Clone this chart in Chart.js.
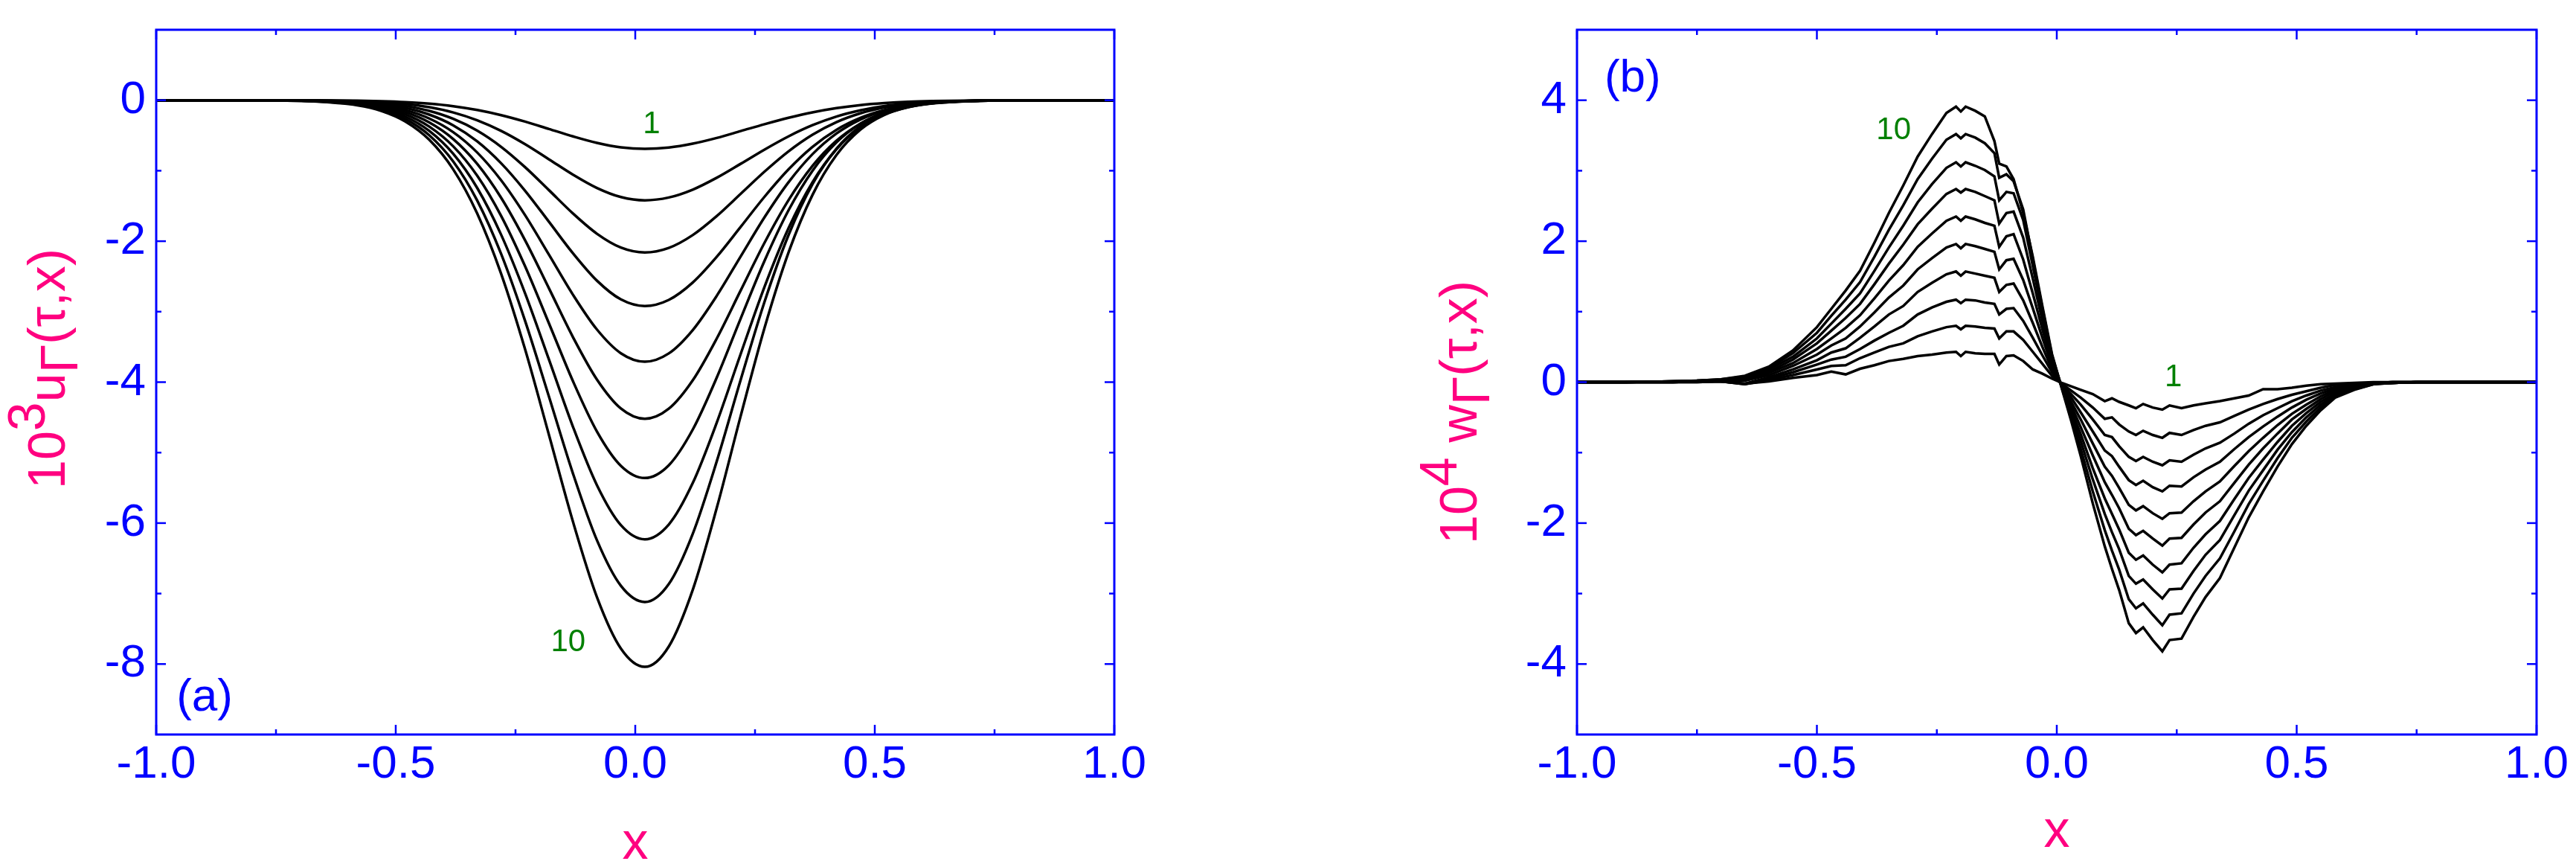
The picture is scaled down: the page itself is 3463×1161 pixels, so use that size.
<!DOCTYPE html>
<html><head><meta charset="utf-8">
<script src="https://cdn.jsdelivr.net/npm/chart.js@4.4.1/dist/chart.umd.min.js"></script>
<style>
html,body{margin:0;padding:0;background:#fff;width:3463px;height:1161px;overflow:hidden;}
canvas{position:absolute;top:0;}
#ca{left:0;} #cb{left:1731px;}
</style></head><body>
<canvas id="ca" width="1731" height="1161"></canvas>
<canvas id="cb" width="1732" height="1161"></canvas>
<script>
// ---------- panel (a): 10^3 u_Γ(τ,x), curves 1..10 ----------
const X_U = [-1, -0.78, -0.68, -0.58, -0.53, -0.48, -0.43, -0.38, -0.33, -0.28, -0.23, -0.18, -0.13, -0.08, -0.03, 0.02, 0.07, 0.12, 0.17, 0.22, 0.27, 0.32, 0.37, 0.42, 0.47, 0.52, 0.57, 0.62, 0.72, 0.82, 1];
const U_1  = [0, 0, -0.001, -0.006, -0.013, -0.026, -0.048, -0.084, -0.138, -0.211, -0.303, -0.408, -0.513, -0.605, -0.668, -0.69, -0.671, -0.616, -0.535, -0.438, -0.34, -0.249, -0.172, -0.112, -0.069, -0.041, -0.022, -0.012, -0.003, 0, 0];
const U_2  = [0, 0, -0.002, -0.012, -0.027, -0.053, -0.099, -0.173, -0.284, -0.435, -0.624, -0.839, -1.056, -1.245, -1.374, -1.42, -1.38, -1.268, -1.1, -0.902, -0.699, -0.512, -0.354, -0.231, -0.143, -0.083, -0.046, -0.024, -0.005, -0.001, 0];
const U_3  = [0, 0, -0.003, -0.019, -0.04, -0.081, -0.151, -0.264, -0.431, -0.661, -0.95, -1.277, -1.607, -1.894, -2.09, -2.16, -2.095, -1.913, -1.644, -1.329, -1.012, -0.725, -0.489, -0.31, -0.185, -0.104, -0.055, -0.027, -0.006, -0.001, 0];
const U_4  = [0, -0.001, -0.005, -0.026, -0.055, -0.109, -0.204, -0.356, -0.583, -0.894, -1.284, -1.726, -2.172, -2.56, -2.826, -2.92, -2.833, -2.586, -2.222, -1.797, -1.368, -0.98, -0.661, -0.419, -0.25, -0.14, -0.074, -0.037, -0.008, -0.001, 0];
const U_5  = [0, -0.001, -0.006, -0.033, -0.069, -0.139, -0.259, -0.453, -0.741, -1.136, -1.631, -2.193, -2.76, -3.253, -3.59, -3.71, -3.592, -3.261, -2.776, -2.216, -1.658, -1.163, -0.765, -0.472, -0.273, -0.148, -0.075, -0.036, -0.007, -0.001, 0];
const U_6  = [0, -0.001, -0.007, -0.04, -0.085, -0.169, -0.315, -0.551, -0.903, -1.384, -1.987, -2.671, -3.362, -3.963, -4.374, -4.52, -4.377, -3.974, -3.382, -2.7, -2.02, -1.417, -0.932, -0.575, -0.333, -0.18, -0.092, -0.044, -0.008, -0.001, 0];
const U_7  = [0, -0.001, -0.009, -0.047, -0.1, -0.2, -0.374, -0.654, -1.07, -1.641, -2.356, -3.168, -3.987, -4.7, -5.187, -5.36, -5.179, -4.673, -3.937, -3.098, -2.276, -1.561, -1.0, -0.598, -0.334, -0.174, -0.085, -0.039, -0.006, -0.001, 0];
const U_8  = [0, -0.001, -0.01, -0.055, -0.117, -0.233, -0.435, -0.76, -1.244, -1.908, -2.739, -3.682, -4.634, -5.462, -6.029, -6.23, -6.02, -5.432, -4.577, -3.601, -2.645, -1.815, -1.163, -0.695, -0.388, -0.202, -0.099, -0.045, -0.008, -0.001, 0];
const U_9  = [0, -0.002, -0.011, -0.063, -0.133, -0.266, -0.497, -0.869, -1.422, -2.18, -3.13, -4.208, -5.297, -6.243, -6.89, -7.12, -6.864, -6.152, -5.126, -3.969, -2.857, -1.912, -1.189, -0.688, -0.37, -0.184, -0.086, -0.037, -0.006, -0.001, 0];
const U_10 = [0, -0.002, -0.013, -0.071, -0.151, -0.301, -0.561, -0.981, -1.606, -2.462, -3.534, -4.752, -5.981, -7.05, -7.78, -8.04, -7.751, -6.947, -5.788, -4.482, -3.227, -2.159, -1.343, -0.777, -0.417, -0.208, -0.097, -0.042, -0.006, -0.001, 0];

// ---------- panel (b): 10^4 w_Γ(τ,x), curves 1..10 ----------
const X_W = [-1, -0.9, -0.8, -0.75, -0.7, -0.65, -0.6, -0.55, -0.5, -0.47, -0.44, -0.41, -0.38, -0.35, -0.32, -0.29, -0.26, -0.23, -0.21, -0.2, -0.19, -0.17, -0.15, -0.13, -0.12, -0.105, -0.09, -0.07, -0.05, -0.03, -0.01, 0.01, 0.03, 0.05, 0.075, 0.1, 0.115, 0.13, 0.15, 0.165, 0.18, 0.2, 0.22, 0.235, 0.26, 0.285, 0.31, 0.34, 0.37, 0.4, 0.43, 0.46, 0.49, 0.52, 0.55, 0.58, 0.62, 0.66, 0.7, 0.75, 0.8, 0.9, 1];
const W_1  = [0, 0, 0, 0, 0.01, -0.02, 0.01, 0.06, 0.10, 0.15, 0.11, 0.19, 0.24, 0.30, 0.33, 0.37, 0.39, 0.42, 0.43, 0.37, 0.43, 0.41, 0.40, 0.40, 0.25, 0.37, 0.38, 0.30, 0.18, 0.12, 0.05, -0.01, -0.06, -0.11, -0.17, -0.27, -0.23, -0.28, -0.33, -0.37, -0.31, -0.36, -0.39, -0.33, -0.37, -0.33, -0.30, -0.27, -0.23, -0.19, -0.10, -0.10, -0.08, -0.05, -0.03, -0.02, -0.01, 0, 0, 0, 0, 0, 0];
const W_2  = [0, 0, 0, 0, 0.01, -0.03, 0.03, 0.10, 0.18, 0.23, 0.24, 0.34, 0.42, 0.50, 0.55, 0.65, 0.72, 0.78, 0.80, 0.75, 0.80, 0.79, 0.77, 0.76, 0.62, 0.72, 0.72, 0.60, 0.43, 0.26, 0.09, -0.02, -0.12, -0.22, -0.36, -0.52, -0.50, -0.60, -0.70, -0.75, -0.69, -0.75, -0.79, -0.72, -0.75, -0.68, -0.62, -0.57, -0.48, -0.39, -0.31, -0.24, -0.18, -0.13, -0.08, -0.04, -0.02, -0.01, 0, 0, 0, 0, 0];
const W_3  = [0, 0, 0, 0.01, 0.01, -0.03, 0.05, 0.14, 0.25, 0.32, 0.36, 0.47, 0.59, 0.70, 0.80, 0.96, 1.06, 1.14, 1.17, 1.12, 1.17, 1.16, 1.13, 1.11, 0.96, 1.04, 1.05, 0.87, 0.63, 0.38, 0.14, -0.03, -0.17, -0.32, -0.53, -0.75, -0.78, -0.91, -1.06, -1.12, -1.06, -1.13, -1.18, -1.11, -1.13, -1.03, -0.94, -0.86, -0.73, -0.59, -0.47, -0.37, -0.27, -0.19, -0.12, -0.07, -0.03, -0.01, 0, 0, 0, 0, 0];
const W_4  = [0, 0, 0, 0.01, 0.01, -0.02, 0.07, 0.18, 0.31, 0.42, 0.48, 0.63, 0.79, 0.96, 1.08, 1.28, 1.41, 1.53, 1.57, 1.51, 1.57, 1.54, 1.51, 1.48, 1.28, 1.38, 1.40, 1.16, 0.84, 0.50, 0.18, -0.03, -0.22, -0.43, -0.70, -0.97, -1.05, -1.20, -1.39, -1.46, -1.40, -1.49, -1.55, -1.47, -1.48, -1.35, -1.24, -1.13, -0.95, -0.78, -0.63, -0.49, -0.36, -0.25, -0.16, -0.09, -0.04, -0.01, 0, 0, 0, 0, 0];
const W_5  = [0, 0, 0, 0.01, 0.02, 0.02, 0.10, 0.23, 0.39, 0.52, 0.62, 0.79, 0.99, 1.20, 1.37, 1.60, 1.76, 1.91, 1.96, 1.90, 1.96, 1.93, 1.89, 1.85, 1.60, 1.73, 1.75, 1.45, 1.05, 0.63, 0.23, -0.04, -0.28, -0.53, -0.87, -1.20, -1.33, -1.50, -1.74, -1.82, -1.76, -1.86, -1.94, -1.86, -1.85, -1.69, -1.55, -1.41, -1.19, -0.98, -0.79, -0.61, -0.45, -0.32, -0.20, -0.11, -0.05, -0.02, -0.01, 0, 0, 0, 0];
const W_6  = [0, 0, 0.01, 0.01, 0.02, 0.04, 0.13, 0.27, 0.47, 0.62, 0.77, 0.95, 1.19, 1.44, 1.66, 1.92, 2.11, 2.29, 2.35, 2.29, 2.35, 2.31, 2.26, 2.22, 1.92, 2.07, 2.10, 1.74, 1.26, 0.75, 0.27, -0.05, -0.33, -0.64, -1.04, -1.42, -1.60, -1.79, -2.08, -2.17, -2.11, -2.22, -2.32, -2.22, -2.21, -2.02, -1.85, -1.69, -1.43, -1.17, -0.94, -0.73, -0.53, -0.38, -0.24, -0.13, -0.07, -0.02, -0.01, 0, 0, 0, 0];
const W_7  = [0, 0, 0.01, 0.01, 0.03, 0.06, 0.15, 0.32, 0.55, 0.73, 0.91, 1.11, 1.39, 1.68, 1.95, 2.24, 2.46, 2.67, 2.74, 2.69, 2.74, 2.70, 2.64, 2.58, 2.25, 2.40, 2.42, 2.05, 1.47, 0.87, 0.31, -0.06, -0.39, -0.74, -1.22, -1.65, -1.87, -2.09, -2.42, -2.52, -2.46, -2.59, -2.70, -2.59, -2.57, -2.35, -2.16, -1.97, -1.66, -1.36, -1.10, -0.85, -0.62, -0.44, -0.28, -0.16, -0.08, -0.02, -0.01, 0, 0, 0, 0];
const W_8  = [0, 0, 0.01, 0.02, 0.03, 0.07, 0.18, 0.36, 0.62, 0.83, 1.04, 1.26, 1.58, 1.91, 2.22, 2.55, 2.81, 3.04, 3.12, 3.06, 3.12, 3.07, 3.01, 2.92, 2.58, 2.70, 2.68, 2.30, 1.65, 0.98, 0.35, -0.06, -0.44, -0.84, -1.38, -1.87, -2.13, -2.37, -2.75, -2.86, -2.80, -2.94, -3.07, -2.94, -2.93, -2.68, -2.45, -2.24, -1.89, -1.54, -1.25, -0.96, -0.71, -0.50, -0.32, -0.18, -0.09, -0.02, -0.01, 0, 0, 0, 0];
const W_9  = [0, 0, 0.01, 0.02, 0.04, 0.08, 0.20, 0.41, 0.70, 0.94, 1.17, 1.42, 1.78, 2.16, 2.51, 2.88, 3.17, 3.44, 3.52, 3.46, 3.52, 3.47, 3.39, 3.25, 2.90, 2.95, 2.85, 2.45, 1.75, 1.05, 0.38, -0.07, -0.50, -0.95, -1.55, -2.10, -2.39, -2.66, -3.08, -3.21, -3.14, -3.30, -3.45, -3.30, -3.28, -3.00, -2.75, -2.50, -2.12, -1.73, -1.40, -1.08, -0.79, -0.56, -0.36, -0.20, -0.10, -0.03, -0.01, 0, 0, 0, 0];
const W_10 = [0, 0, 0.01, 0.02, 0.04, 0.09, 0.22, 0.45, 0.78, 1.04, 1.30, 1.58, 1.98, 2.40, 2.79, 3.20, 3.52, 3.82, 3.91, 3.84, 3.91, 3.85, 3.77, 3.42, 3.10, 3.06, 2.88, 2.40, 1.78, 1.08, 0.40, -0.08, -0.55, -1.05, -1.72, -2.33, -2.65, -2.95, -3.42, -3.56, -3.48, -3.66, -3.82, -3.66, -3.64, -3.33, -3.05, -2.78, -2.35, -1.92, -1.55, -1.20, -0.88, -0.62, -0.40, -0.22, -0.11, -0.03, -0.01, 0, 0, 0, 0];

// ---------- ticks ----------
const X_TICKS = [-1, -0.5, 0, 0.5, 1];
const X_MINOR = [-0.75, -0.25, 0.25, 0.75];
const YA_TICKS = [0, -2, -4, -6, -8];
const YA_MINOR = [-1, -3, -5, -7];
const YB_TICKS = [4, 2, 0, -2, -4];
const YB_MINOR = [3, 1, -1, -3];

// ---------- annotations ----------
const LABELS_A = [
  {t: '1',   x: 0.034,  y: -0.35, c: 'green'},
  {t: '10',  x: -0.14,  y: -7.70, c: 'green'},
  {t: '(a)', x: -0.899, y: -8.48, c: 'blue'}
];
const LABELS_B = [
  {t: '10',  x: -0.34,  y: 3.57, c: 'green'},
  {t: '1',   x: 0.243,  y: 0.06, c: 'green'},
  {t: '(b)', x: -0.884, y: 4.30, c: 'blue'}
];
const YTITLE_A = [{t: '10'}, {t: '3', dy: -27}, {t: 'u'}, {t: 'Γ', dy: 17}, {t: '(τ,x)'}];
const YTITLE_B = [{t: '10'}, {t: '4', dy: -27}, {t: ' w'}, {t: 'Γ', dy: 17}, {t: '(τ,x)'}];

const FONT = "'Liberation Sans', Arial, Helvetica, sans-serif";
const BLUE = '#0000ff', PINK = '#ff0080', GREEN = '#008000';

function makeDecor(cfg) {
  return {
    id: 'decor',
    afterDraw(chart) {
      const ctx = chart.ctx, a = chart.chartArea, xs = chart.scales.x, ys = chart.scales.y;
      ctx.save();
      ctx.strokeStyle = BLUE;
      ctx.lineCap = 'butt';
      const seg = (x1, y1, x2, y2) => { ctx.beginPath(); ctx.moveTo(x1, y1); ctx.lineTo(x2, y2); ctx.stroke(); };
      ctx.lineWidth = 2.5;
      const MAJ = 13, MIN = 7;
      X_TICKS.forEach(v => { const p = xs.getPixelForValue(v); seg(p, a.bottom, p, a.bottom - MAJ); seg(p, a.top, p, a.top + MAJ); });
      X_MINOR.forEach(v => { const p = xs.getPixelForValue(v); seg(p, a.bottom, p, a.bottom - MIN); seg(p, a.top, p, a.top + MIN); });
      cfg.yMajor.forEach(v => { const p = ys.getPixelForValue(v); seg(a.left, p, a.left + MAJ, p); seg(a.right, p, a.right - MAJ, p); });
      cfg.yMinor.forEach(v => { const p = ys.getPixelForValue(v); seg(a.left, p, a.left + MIN, p); seg(a.right, p, a.right - MIN, p); });
      ctx.lineWidth = 3;
      ctx.strokeRect(a.left, a.top, a.right - a.left, a.bottom - a.top);

      // in-plot labels
      ctx.textAlign = 'center';
      ctx.textBaseline = 'middle';
      cfg.labels.forEach(l => {
        const isG = l.c === 'green';
        ctx.fillStyle = isG ? GREEN : BLUE;
        ctx.font = (isG ? 42 : 62) + 'px ' + FONT;
        ctx.fillText(l.t, xs.getPixelForValue(l.x), ys.getPixelForValue(l.y));
      });

      // x title
      ctx.fillStyle = PINK;
      ctx.font = '70px ' + FONT;
      ctx.textBaseline = 'alphabetic';
      ctx.fillText('x', (a.left + a.right) / 2, cfg.xTitleBase);

      // y title (rotated, with super/subscripts)
      ctx.save();
      ctx.translate(cfg.yTitleX, cfg.yTitleY);
      ctx.rotate(-Math.PI / 2);
      ctx.textAlign = 'left';
      let cx = 0;
      cfg.yTitle.forEach(p => { ctx.fillText(p.t, cx, p.dy || 0); cx += ctx.measureText(p.t).width; });
      ctx.restore();
      ctx.restore();
    }
  };
}

function noPad(s) { s.paddingTop = 0; s.paddingBottom = 0; s.paddingLeft = 0; s.paddingRight = 0; }

function makeChart(id, cfg) {
  const datasets = cfg.series.map(ys => Object.assign({
    data: cfg.xs.map((x, i) => ({x: x, y: ys[i]})),
    borderColor: '#000', borderWidth: 3.5, pointRadius: 0, fill: false
  }, cfg.lineOpts));
  return new Chart(document.getElementById(id), {
    type: 'line',
    data: {datasets: datasets},
    options: {
      responsive: false, animation: false, devicePixelRatio: 1,
      layout: {padding: {left: 0, right: cfg.padRight, top: 40, bottom: 0}},
      plugins: {legend: {display: false}, tooltip: {enabled: false}},
      scales: {
        x: {
          type: 'linear', min: -1, max: 1,
          afterBuildTicks: s => { s.ticks = X_TICKS.map(v => ({value: v})); },
          afterFit: s => { s.height = 174; noPad(s); },
          grid: {display: false, drawTicks: false}, border: {display: false},
          ticks: {color: BLUE, font: {family: FONT, size: 62}, padding: 4, maxRotation: 0, autoSkip: false,
                  callback: v => Number(v).toFixed(1)}
        },
        y: {
          type: 'linear', min: cfg.ymin, max: cfg.ymax,
          afterBuildTicks: s => { s.ticks = cfg.yMajor.map(v => ({value: v})); },
          afterFit: s => { s.width = cfg.yWidth; noPad(s); },
          grid: {display: false, drawTicks: false}, border: {display: false},
          ticks: {color: BLUE, font: {family: FONT, size: 62}, padding: 14, autoSkip: false,
                  callback: v => String(v)}
        }
      }
    },
    plugins: [makeDecor(cfg)]
  });
}

makeChart('ca', {
  xs: X_U, series: [U_1, U_2, U_3, U_4, U_5, U_6, U_7, U_8, U_9, U_10],
  lineOpts: {cubicInterpolationMode: 'monotone'},
  ymin: -9, ymax: 1, yMajor: YA_TICKS, yMinor: YA_MINOR,
  yWidth: 210, padRight: 233,
  labels: LABELS_A, yTitle: YTITLE_A, yTitleX: 87, yTitleY: 657, xTitleBase: 1154
});
makeChart('cb', {
  xs: X_W, series: [W_1, W_2, W_3, W_4, W_5, W_6, W_7, W_8, W_9, W_10],
  lineOpts: {tension: 0},
  ymin: -5, ymax: 5, yMajor: YB_TICKS, yMinor: YB_MINOR,
  yWidth: 389, padRight: 53,
  labels: LABELS_B, yTitle: YTITLE_B, yTitleX: 254, yTitleY: 731, xTitleBase: 1138
});
</script></body></html>
